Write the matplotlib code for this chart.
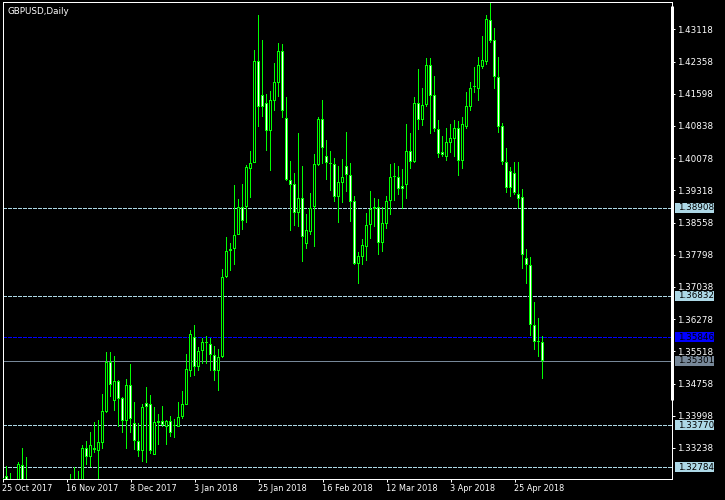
import matplotlib
matplotlib.use("Agg")
import matplotlib.pyplot as plt
from matplotlib.patches import Rectangle
from matplotlib.transforms import blended_transform_factory

# GBPUSD daily bars, 25 Oct 2017 .. 4 May 2018
opens = [
    1.3220, 1.3258, 1.3234, 1.3206, 1.3220, 1.3284, 1.3201, 1.3166, 1.3130, 1.3095,
    1.3142, 1.3177, 1.3154, 1.3118, 1.3159, 1.3201, 1.3189, 1.3225, 1.3236, 1.3220,
    1.3229, 1.3324, 1.3302, 1.3324, 1.3317, 1.3336, 1.3409, 1.3527, 1.3435, 1.3482,
    1.3442, 1.3387, 1.3472, 1.3383, 1.3340, 1.3317, 1.3430, 1.3428, 1.3307, 1.3387,
    1.3387, 1.3373, 1.3387, 1.3376, 1.3373, 1.3397, 1.3425, 1.3505, 1.3586, 1.3515,
    1.3553, 1.3572, 1.3569, 1.3543, 1.3505, 1.3538, 1.3727, 1.3789, 1.3793, 1.3826,
    1.3892, 1.3892, 1.3982, 1.3996, 1.4237, 1.4157, 1.4138, 1.4072, 1.4143, 1.4185,
    1.4261, 1.4103, 1.3956, 1.3947, 1.3878, 1.3914, 1.3805, 1.3833, 1.3892, 1.3992,
    1.4100, 1.4013, 1.3996, 1.3994, 1.3916, 1.3949, 1.3989, 1.3968, 1.3907, 1.3758,
    1.3774, 1.3798, 1.3850, 1.3888, 1.3892, 1.3808, 1.3852, 1.3907, 1.3963, 1.3963,
    1.3942, 1.3944, 1.4025, 1.3999, 1.4138, 1.4098, 1.4133, 1.4228, 1.4157, 1.4077,
    1.4022, 1.4010, 1.4043, 1.4053, 1.4079, 1.4001, 1.4081, 1.4128, 1.4176, 1.4171,
    1.4223, 1.4235, 1.4334, 1.4287, 1.4199, 1.4084, 1.3999, 1.3977, 1.3973, 1.3923,
    1.3916, 1.3772, 1.3756, 1.3614, 1.3574, 1.3574,
]
highs = [
    1.3258, 1.3281, 1.3265, 1.3239, 1.3291, 1.3324, 1.3302, 1.3189, 1.3177, 1.3154,
    1.3201, 1.3213, 1.3189, 1.3166, 1.3225, 1.3236, 1.3243, 1.3262, 1.3279, 1.3269,
    1.3331, 1.3340, 1.3361, 1.3385, 1.3390, 1.3451, 1.3550, 1.3550, 1.3541, 1.3484,
    1.3444, 1.3487, 1.3522, 1.3432, 1.3383, 1.3428, 1.3468, 1.3449, 1.3420, 1.3404,
    1.3423, 1.3390, 1.3399, 1.3392, 1.3432, 1.3458, 1.3546, 1.3602, 1.3614, 1.3562,
    1.3583, 1.3588, 1.3583, 1.3564, 1.3557, 1.3746, 1.3822, 1.3808, 1.3944, 1.3911,
    1.3947, 1.3992, 1.4025, 1.4263, 1.4346, 1.4287, 1.4159, 1.4166, 1.4232, 1.4280,
    1.4277, 1.4152, 1.4001, 1.3973, 1.4067, 1.3989, 1.3876, 1.3926, 1.4018, 1.4105,
    1.4145, 1.4051, 1.4025, 1.4008, 1.3989, 1.4006, 1.4069, 1.3996, 1.3918, 1.3786,
    1.3817, 1.3878, 1.3930, 1.3914, 1.3911, 1.3892, 1.3918, 1.3994, 1.3996, 1.3989,
    1.3982, 1.4088, 1.4067, 1.4152, 1.4218, 1.4173, 1.4244, 1.4244, 1.4202, 1.4098,
    1.4060, 1.4079, 1.4088, 1.4098, 1.4095, 1.4105, 1.4164, 1.4187, 1.4223, 1.4246,
    1.4296, 1.4346, 1.4374, 1.4315, 1.4246, 1.4091, 1.4032, 1.3987, 1.3999, 1.3999,
    1.3935, 1.3793, 1.3774, 1.3668, 1.3631, 1.3588,
]
lows = [
    1.3201, 1.3189, 1.3177, 1.3189, 1.3210, 1.3189, 1.3154, 1.3107, 1.3083, 1.3071,
    1.3107, 1.3130, 1.3095, 1.3083, 1.3142, 1.3166, 1.3173, 1.3189, 1.3201, 1.3189,
    1.3220, 1.3284, 1.3279, 1.3312, 1.3250, 1.3321, 1.3406, 1.3444, 1.3411, 1.3373,
    1.3359, 1.3321, 1.3359, 1.3319, 1.3302, 1.3291, 1.3288, 1.3310, 1.3307, 1.3331,
    1.3373, 1.3331, 1.3350, 1.3347, 1.3373, 1.3392, 1.3425, 1.3491, 1.3494, 1.3505,
    1.3522, 1.3522, 1.3505, 1.3482, 1.3458, 1.3536, 1.3725, 1.3741, 1.3756, 1.3826,
    1.3838, 1.3855, 1.3914, 1.3996, 1.4081, 1.4105, 1.4025, 1.3977, 1.4119, 1.4152,
    1.4103, 1.3954, 1.3836, 1.3848, 1.3845, 1.3763, 1.3793, 1.3826, 1.3798, 1.3989,
    1.3994, 1.3956, 1.3930, 1.3904, 1.3855, 1.3902, 1.3928, 1.3857, 1.3756, 1.3711,
    1.3756, 1.3765, 1.3817, 1.3845, 1.3779, 1.3786, 1.3841, 1.3874, 1.3907, 1.3921,
    1.3888, 1.3911, 1.3982, 1.3996, 1.4074, 1.4084, 1.4128, 1.4065, 1.4069, 1.4008,
    1.4010, 1.4001, 1.4020, 1.4010, 1.3966, 1.3982, 1.4077, 1.4119, 1.4162, 1.4143,
    1.4218, 1.4228, 1.4280, 1.4171, 1.4067, 1.3992, 1.3926, 1.3916, 1.3921, 1.3890,
    1.3746, 1.3711, 1.3588, 1.3555, 1.3538, 1.3486,
]
closes = [
    1.3253, 1.3208, 1.3206, 1.3225, 1.3286, 1.3201, 1.3166, 1.3130, 1.3095, 1.3142,
    1.3177, 1.3154, 1.3118, 1.3159, 1.3201, 1.3189, 1.3225, 1.3236, 1.3220, 1.3229,
    1.3324, 1.3302, 1.3331, 1.3319, 1.3338, 1.3411, 1.3527, 1.3472, 1.3482, 1.3439,
    1.3387, 1.3472, 1.3392, 1.3340, 1.3317, 1.3420, 1.3420, 1.3317, 1.3385, 1.3383,
    1.3378, 1.3387, 1.3359, 1.3377, 1.3397, 1.3428, 1.3510, 1.3593, 1.3515, 1.3553,
    1.3574, 1.3573, 1.3543, 1.3505, 1.3538, 1.3727, 1.3789, 1.3793, 1.3826, 1.3892,
    1.3859, 1.3987, 1.3996, 1.4237, 1.4128, 1.4128, 1.4072, 1.4145, 1.4187, 1.4261,
    1.4119, 1.3956, 1.3944, 1.3878, 1.3914, 1.3822, 1.3838, 1.3890, 1.3994, 1.4100,
    1.4032, 1.3996, 1.3995, 1.3916, 1.3951, 1.3963, 1.3968, 1.3904, 1.3758, 1.3777,
    1.3803, 1.3850, 1.3888, 1.3892, 1.3808, 1.3855, 1.3907, 1.3963, 1.3964, 1.3935,
    1.3935, 1.4025, 1.3999, 1.4138, 1.4098, 1.4133, 1.4228, 1.4154, 1.4077, 1.4018,
    1.4015, 1.4046, 1.4055, 1.4079, 1.4001, 1.4088, 1.4131, 1.4173, 1.4175, 1.4228,
    1.4239, 1.4336, 1.4284, 1.4199, 1.4081, 1.3999, 1.3937, 1.3937, 1.3926, 1.3911,
    1.3779, 1.3756, 1.3614, 1.3575, 1.3575, 1.35301,
]

date_labels = ["25 Oct 2017", "16 Nov 2017", "8 Dec 2017", "3 Jan 2018", "25 Jan 2018",
               "16 Feb 2018", "12 Mar 2018", "3 Apr 2018", "25 Apr 2018"]
date_bars = [0, 16, 32, 48, 64, 80, 96, 112, 128]

price_ticks = [1.43118, 1.42358, 1.41598, 1.40838, 1.40078, 1.39318, 1.38558,
               1.37798, 1.37038, 1.36278, 1.35518, 1.34758, 1.33998, 1.33238]

# horizontal levels: (price, line colour, dashed?)
levels = [
    (1.38908, "#add8e6", True),
    (1.36832, "#add8e6", True),
    (1.35846, "#0000ff", True),
    (1.35301, "#778899", False),
    (1.33770, "#add8e6", True),
    (1.32784, "#add8e6", True),
]

W, H = 725, 500
PX = 72.0 / 100  # one pixel in points
FS = 6.3
LIME = "#00ff00"
Y_TOP, Y_BOT = 1.43763, 1.32506

fig = plt.figure(figsize=(W / 100, H / 100), dpi=100, facecolor="black")
ax_l, ax_r, ax_t, ax_b = 2.5, 672.0, 2.0, 479.0
ax = fig.add_axes([ax_l / W, 1 - ax_b / H, (ax_r - ax_l) / W, (ax_b - ax_t) / H])
ax.set_facecolor("black")

n = len(opens)
xs = list(range(n))
ax.set_xlim(0, (ax_r - ax_l) / 4.0)
ax.set_ylim(Y_BOT, Y_TOP)
ppx = (Y_TOP - Y_BOT) / (ax_b - ax_t)  # price per pixel

# wicks as 1 px bars (crisper than lines without antialiasing)
ax.bar(xs, [h - l for h, l in zip(highs, lows)], bottom=lows, width=0.25, color=LIME,
       linewidth=0, antialiased=False, zorder=2)

# bodies: 3 px lime block, 1 px core black (bull) or white (bear)
bottoms = [min(o, c) for o, c in zip(opens, closes)]
heights = [max(abs(c - o), ppx) for o, c in zip(opens, closes)]
ax.bar(xs, heights, bottom=bottoms, width=0.75, color=LIME, linewidth=0,
       antialiased=False, zorder=3)
core_x, core_lo, core_h, core_c = [], [], [], []
for i in xs:
    if heights[i] > 2.5 * ppx:
        core_x.append(i)
        core_lo.append(bottoms[i] + ppx)
        core_h.append(heights[i] - 2 * ppx)
        core_c.append("black" if closes[i] > opens[i] else "white")
ax.bar(core_x, core_h, bottom=core_lo, width=0.25, color=core_c, linewidth=0,
       antialiased=False, zorder=4)

# level lines and boxed price labels on the axis
tr = blended_transform_factory(ax.transAxes, ax.transData)
wpx = ax_r - ax_l
for price, col, dashed in levels:
    ls = (0, (4, 2)) if dashed else "-"
    ax.axhline(price, color=col, linewidth=PX, linestyle=ls, antialiased=False, zorder=1)
    ax.add_patch(Rectangle(((675 - ax_l) / wpx, price - 5 * ppx), 39 / wpx, 10 * ppx,
                           facecolor=col, edgecolor="none", transform=tr,
                           clip_on=False, zorder=5))
    ax.text((678 - ax_l) / wpx, price, f"{price:.5f}", transform=tr, color="black",
            fontsize=FS, va="center", ha="left", clip_on=False, zorder=6)

# axes styling
for side in ["left", "right", "top", "bottom"]:
    ax.spines[side].set_color("white")
    ax.spines[side].set_linewidth(PX)
ax.plot([1.0, 1.0], [(ax_b - 6) / (ax_b - ax_t), (ax_b - 400) / (ax_b - ax_t)],
        transform=ax.transAxes, color="white", linewidth=3 * PX, solid_capstyle="butt",
        clip_on=False, zorder=7)

ax.yaxis.tick_right()
ax.set_yticks(price_ticks)
ax.set_yticklabels([f"{p:.5f}" for p in price_ticks])
ax.tick_params(axis="y", colors="white", length=3 * PX, width=PX, pad=2.5 * PX,
               labelsize=FS, direction="out")

ax.set_xticks(date_bars)
ax.set_xticklabels(date_labels, ha="left")
ax.tick_params(axis="x", colors="white", length=3 * PX, width=PX, pad=2 * PX,
               labelsize=5.9, direction="out")

ax.text(4.5 / wpx, 1 - 5 / (ax_b - ax_t), "GBPUSD,Daily", transform=ax.transAxes,
        color="white", fontsize=FS, va="top", ha="left")

fig.savefig("out.png", dpi=100, facecolor="black")
